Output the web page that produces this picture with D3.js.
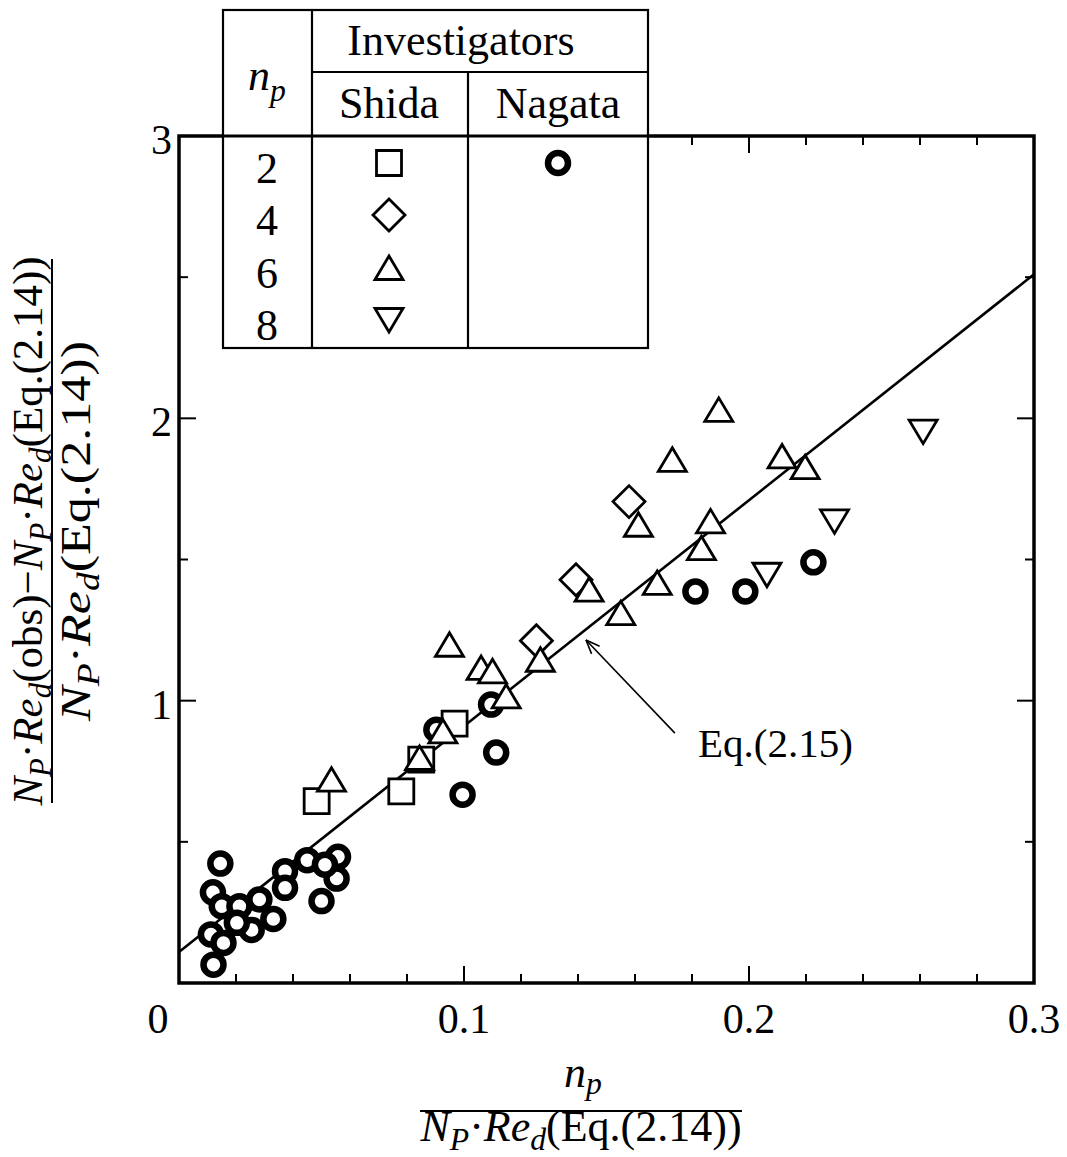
<!DOCTYPE html>
<html>
<head>
<meta charset="utf-8">
<script src="https://cdn.jsdelivr.net/npm/d3@7"></script>
<style>
  body { margin: 0; background: #fff; }
  text { font-family: "Liberation Serif", "Times New Roman", serif; fill: #000; }
</style>
</head>
<body>
<svg id="chart" width="1067" height="1157"></svg>
<script>
// Nagata, n_p = 2 (thick rings)
const nagataX = [0.0145, 0.0119, 0.0150, 0.0212, 0.0282, 0.0372, 0.0372, 0.0450, 0.0558, 0.0553,
                 0.0500, 0.0331, 0.0255, 0.0203, 0.0112, 0.0156, 0.0121, 0.0512,
                 0.0903, 0.0995, 0.1095, 0.1113, 0.1812, 0.1987, 0.2226];
const nagataY = [0.423, 0.321, 0.272, 0.272, 0.296, 0.396, 0.337, 0.435, 0.447, 0.370,
                 0.290, 0.227, 0.188, 0.213, 0.172, 0.142, 0.065, 0.419,
                 0.897, 0.667, 0.986, 0.816, 1.387, 1.387, 1.490];

// Shida, n_p = 2 (squares)
const shida2X = [0.0483, 0.0780, 0.0850, 0.0967];
const shida2Y = [0.644, 0.679, 0.791, 0.919];

// Shida, n_p = 4 (diamonds)
const shida4X = [0.1254, 0.1393, 0.1579];
const shida4Y = [1.212, 1.428, 1.705];

// Shida, n_p = 6 (triangles)
const shida6X = [0.0535, 0.0844, 0.0926, 0.0949, 0.1060, 0.1100, 0.1148, 0.1268, 0.1439, 0.1550,
                 0.1612, 0.1678, 0.1731, 0.1833, 0.1865, 0.1894, 0.2116, 0.2197];
const shida6Y = [0.720, 0.797, 0.891, 1.198, 1.116, 1.104, 1.015, 1.145, 1.393, 1.310,
                 1.623, 1.417, 1.853, 1.540, 1.635, 2.030, 1.865, 1.827];

// Shida, n_p = 8 (inverted triangles)
const shida8X = [0.2063, 0.2300, 0.2611];
const shida8Y = [1.446, 1.635, 1.953];

// Eq.(2.15) correlation line
const eqX = [0, 0.3];
const eqY = [0.11, 2.51];

// Axis ticks
const xTickValues = [0, 0.1, 0.2, 0.3];
const xTickLabels = ["0", "0.1", "0.2", "0.3"];
const xMinorTicks = [0.02, 0.04, 0.06, 0.08, 0.12, 0.14, 0.16, 0.18, 0.22, 0.24, 0.26, 0.28];
const yTickValues = [1, 2, 3];
const yTickLabels = ["1", "2", "3"];
const yMinorTicks = [0.5, 1.5, 2.5];

// Legend table contents
const npValues = ["2", "4", "6", "8"];
const investigators = ["Shida", "Nagata"];
const shidaSymbols = ["square", "diamond", "triangle", "invtriangle"];

const svg = d3.select("#chart");
const plotL = 179, plotR = 1034, plotT = 136, plotB = 983;

const x = d3.scaleLinear().domain([0, 0.3]).range([plotL, plotR]);
const y = d3.scaleLinear().domain([0, 3]).range([plotB, plotT]);

// Write math-style text: parts are [string, kind], kind may contain
// "i" (italic) and "s" (subscript).
function addMath(textSel, parts, size, subShift = 0.22) {
  let shift = 0;
  parts.forEach(([str, kind]) => {
    const sub = kind.includes("s");
    const target = sub ? size * subShift : 0;
    textSel.append("tspan")
      .text(str)
      .attr("dy", target - shift)
      .style("font-size", (sub ? size * 0.72 : size) + "px")
      .style("font-style", kind.includes("i") ? "italic" : "normal");
    shift = target;
  });
  return textSel;
}

// ---- ticks (pointing inward) ----
const tickG = svg.append("g").attr("stroke", "#000").attr("stroke-width", 2);
function hTick(v, len, side) {
  const px = side === "left" ? plotL : plotR;
  const dir = side === "left" ? 1 : -1;
  tickG.append("line").attr("x1", px).attr("x2", px + dir * len)
    .attr("y1", y(v)).attr("y2", y(v));
}
function vTick(v, len, side) {
  const py = side === "bottom" ? plotB : plotT;
  const dir = side === "bottom" ? -1 : 1;
  tickG.append("line").attr("y1", py).attr("y2", py + dir * len)
    .attr("x1", x(v)).attr("x2", x(v));
}
xMinorTicks.forEach(v => { vTick(v, 9, "bottom"); vTick(v, 9, "top"); });
[0.1, 0.2].forEach(v => { vTick(v, 17, "bottom"); vTick(v, 17, "top"); });
yMinorTicks.forEach(v => { hTick(v, 9, "left"); hTick(v, 9, "right"); });
[1, 2].forEach(v => { hTick(v, 17, "left"); hTick(v, 17, "right"); });

// ---- Eq.(2.15) line ----
const line = d3.line().x((d, i) => x(eqX[i])).y((d, i) => y(eqY[i]));
svg.append("path").datum(eqX).attr("d", line)
  .attr("fill", "none").attr("stroke", "#000").attr("stroke-width", 2.6);

// ---- markers ----
const shapes = {
  square: "M-12.5,-12.5H12.5V12.5H-12.5Z",
  diamond: "M0,-16L16,0L0,16L-16,0Z",
  triangle: "M0,-12L14,11.5H-14Z",
  invtriangle: "M0,12L14,-11.5H-14Z"
};
function drawShape(g, xs, ys, shape) {
  g.selectAll(null).data(d3.range(xs.length)).join("path")
    .attr("d", shapes[shape])
    .attr("transform", i => `translate(${x(xs[i])},${y(ys[i])})`)
    .attr("fill", "#fff").attr("stroke", "#000").attr("stroke-width", 2.8)
    .attr("stroke-linejoin", "miter");
}
const markG = svg.append("g");
markG.selectAll(null).data(d3.range(nagataX.length)).join("circle")
  .attr("cx", i => x(nagataX[i])).attr("cy", i => y(nagataY[i]))
  .attr("r", 10).attr("fill", "#fff").attr("stroke", "#000").attr("stroke-width", 6.5);
drawShape(markG, shida2X, shida2Y, "square");
drawShape(markG, shida4X, shida4Y, "diamond");
drawShape(markG, shida6X, shida6Y, "triangle");
drawShape(markG, shida8X, shida8Y, "invtriangle");

// ---- frame ----
svg.append("rect").attr("x", plotL).attr("y", plotT)
  .attr("width", plotR - plotL).attr("height", plotB - plotT)
  .attr("fill", "none").attr("stroke", "#000").attr("stroke-width", 3.5);

// ---- tick labels ----
svg.append("g").selectAll("text").data(xTickValues).join("text")
  .attr("x", (d, i) => x(d) + (i === 0 ? -21 : 0))
  .attr("y", 1033)
  .attr("text-anchor", "middle")
  .style("font-size", "42px")
  .text((d, i) => xTickLabels[i]);
svg.append("g").selectAll("text").data(yTickValues).join("text")
  .attr("x", 172)
  .attr("y", d => y(d) + 18)
  .attr("text-anchor", "end")
  .style("font-size", "42px")
  .text((d, i) => yTickLabels[i]);

// ---- Eq.(2.15) annotation ----
const arrowFrom = [0.174, 0.885], arrowTo = [0.1428, 1.215];
const ax0 = x(arrowFrom[0]), ay0 = y(arrowFrom[1]), ax1 = x(arrowTo[0]), ay1 = y(arrowTo[1]);
svg.append("line").attr("x1", ax0).attr("y1", ay0).attr("x2", ax1).attr("y2", ay1)
  .attr("stroke", "#000").attr("stroke-width", 1.6);
const ang = Math.atan2(ay0 - ay1, ax0 - ax1);
[0.38, -0.38].forEach(da => {
  svg.append("line").attr("x1", ax1).attr("y1", ay1)
    .attr("x2", ax1 + 15 * Math.cos(ang + da)).attr("y2", ay1 + 15 * Math.sin(ang + da))
    .attr("stroke", "#000").attr("stroke-width", 1.6);
});
svg.append("text").attr("x", 698).attr("y", 757).style("font-size", "41px").text("Eq.(2.15)");

// ---- legend table ----
const tbl = svg.append("g");
const tL = 223, tC1 = 312, tC2 = 468, tR = 648, tT = 10, tH = 72, tH2 = 136, tB = 348;
tbl.append("rect").attr("x", tL).attr("y", tT).attr("width", tR - tL).attr("height", tB - tT)
  .attr("fill", "#fff").attr("stroke", "#000").attr("stroke-width", 2.2);
const tLines = [[tC1, tT, tC1, tB], [tC2, tH, tC2, tB], [tC1, tH, tR, tH], [tL, tH2, tR, tH2]];
tbl.selectAll("line").data(tLines).join("line")
  .attr("x1", d => d[0]).attr("y1", d => d[1]).attr("x2", d => d[2]).attr("y2", d => d[3])
  .attr("stroke", "#000").attr("stroke-width", 2.2);
// top axis line continues across the table
tbl.append("line").attr("x1", tL).attr("x2", tR).attr("y1", plotT).attr("y2", plotT)
  .attr("stroke", "#000").attr("stroke-width", 3);

tbl.append("text").attr("x", 461).attr("y", 55).attr("text-anchor", "middle")
  .style("font-size", "44px").text("Investigators");
addMath(tbl.append("text").attr("x", 267).attr("y", 90).attr("text-anchor", "middle"),
  [["n", "i"], ["p", "is"]], 44, 0.25);
tbl.selectAll(".inv").data(investigators).join("text")
  .attr("x", (d, i) => i === 0 ? 389 : 558).attr("y", 118).attr("text-anchor", "middle")
  .style("font-size", "44px").text(d => d);
const rowY = [163, 215, 268, 320];
tbl.selectAll(".np").data(npValues).join("text")
  .attr("x", 267).attr("y", (d, i) => rowY[i] + 20).attr("text-anchor", "middle")
  .style("font-size", "44px").text(d => d);
tbl.selectAll(".sym").data(shidaSymbols).join("path")
  .attr("d", d => shapes[d])
  .attr("transform", (d, i) => `translate(389,${rowY[i]})`)
  .attr("fill", "#fff").attr("stroke", "#000").attr("stroke-width", 2.8);
tbl.append("circle").attr("cx", 558).attr("cy", rowY[0]).attr("r", 10)
  .attr("fill", "#fff").attr("stroke", "#000").attr("stroke-width", 6.5);

// ---- axis titles ----
const xt = svg.append("g");
addMath(xt.append("text").attr("x", 583).attr("y", 1087).attr("text-anchor", "middle"),
  [["n", "i"], ["p", "is"]], 44, 0.15);
xt.append("line").attr("x1", 420).attr("x2", 742).attr("y1", 1111).attr("y2", 1111)
  .attr("stroke", "#000").attr("stroke-width", 2);
addMath(xt.append("text").attr("x", 581).attr("y", 1141).attr("text-anchor", "middle"),
  [["N", "i"], ["P", "is"], ["·", ""], ["Re", "i"], ["d", "is"], ["(Eq.(2.14))", ""]], 44, 0.2);

const yt = svg.append("g").attr("transform", "translate(52,531) rotate(-90)");
addMath(yt.append("text").attr("x", 0).attr("y", -10).attr("text-anchor", "middle"),
  [["N", "i"], ["P", "is"], ["·", ""], ["Re", "i"], ["d", "is"], ["(obs)−", ""],
   ["N", "i"], ["P", "is"], ["·", ""], ["Re", "i"], ["d", "is"], ["(Eq.(2.14))", ""]], 43, 0.2);
yt.append("line").attr("x1", -272).attr("x2", 272).attr("y1", 0).attr("y2", 0)
  .attr("stroke", "#000").attr("stroke-width", 2);
addMath(yt.append("text").attr("x", 0).attr("y", 38).attr("text-anchor", "middle")
  .attr("textLength", 380).attr("lengthAdjust", "spacingAndGlyphs"),
  [["N", "i"], ["P", "is"], ["·", ""], ["Re", "i"], ["d", "is"], ["(Eq.(2.14))", ""]], 43, 0.2);
</script>
</body>
</html>
